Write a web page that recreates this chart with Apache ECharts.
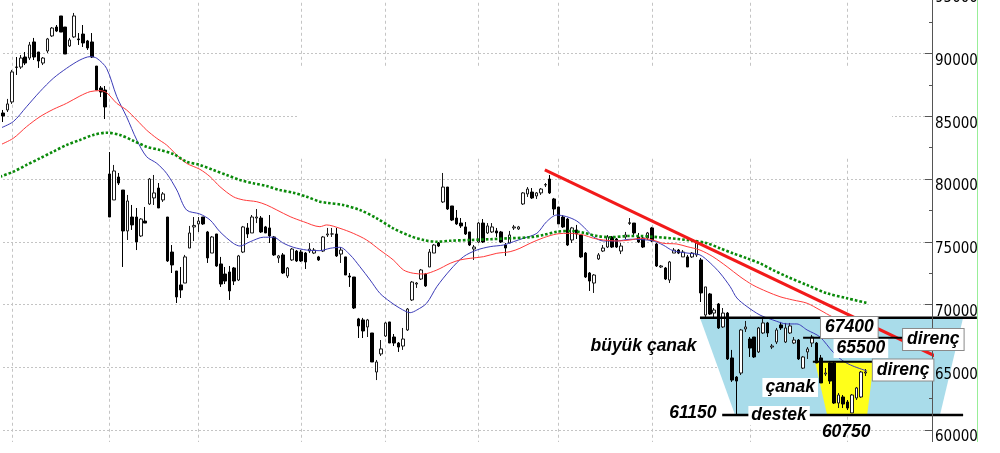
<!DOCTYPE html>
<html><head><meta charset="utf-8">
<script src="https://cdn.jsdelivr.net/npm/echarts@6/dist/echarts.min.js"></script>
<style>html,body{margin:0;padding:0;background:#fff}#c{width:1000px;height:453px}</style>
</head><body><div id="c"></div>
<script>
// ---- daily candles ----
const opens = [85260,85500,86140,88920,88920,89720,89640,90920,90120,89240,90200,91400,92110,92990,92110,90600,91320,91160,91550,91000,90920,89000,87250,87090,80400,78330,80160,79120,75860,76970,76970,75460,76650,78010,78490,79280,78330,76970,74180,72670,71560,71710,74500,76180,76420,76970,75780,74100,75620,73230,72430,72590,72910,71950,74180,76100,75700,76890,76890,76180,76100,75380,73710,73950,72270,73550,74260,74180,74100,74260,74100,73790,74260,75540,75620,75620,74020,73790,72270,72190,68850,68770,68210,67730,64620,66060,67490,68610,67410,66930,66690,67970,70360,71630,72030,72430,72990,74100,74900,78170,79360,77850,76890,76490,76180,75780,74420,74980,76490,75700,75780,75860,75780,74740,74900,76100,76020,78010,78810,78960,78650,78890,79520,80000,78410,77770,76970,76810,75140,75940,75540,74100,72510,71710,73630,74260,74580,75380,75220,74260,75380,76460,76490,75380,75300,75300,76100,74820,72990,72910,71950,74100,74340,73790,73790,73790,73950,73550,69160,70840,69320,70040,68210,69320,65740,64220,64540,68050,67250,67410,66220,67730,68530,66610,67010,68370,67010,67730,66930,67170,64930,66220,66930,66930,65740,64460,65340,65340,62150,62630,62230,61360,62550,62630,64540];
const closes = [85020,85980,88530,88900,89640,89240,90680,89720,89400,89640,91160,92030,91790,91710,89960,91080,92990,91100,90840,90440,89720,87090,86930,85740,76970,80640,79680,75860,78250,76340,74980,76810,76490,80000,78890,77690,78810,73470,73150,70600,71160,73790,75700,76300,76650,76420,73710,75380,73070,71630,71870,71080,71870,73870,76180,75620,76970,76970,75780,75700,75460,73950,73870,72510,72910,74420,73470,73470,73390,74420,74340,73550,75380,75620,75620,73870,74340,72350,72190,69720,68290,67890,68770,65420,65420,66460,68530,66930,66930,66610,67250,69640,71790,71710,72750,71480,74180,74740,74660,79360,77610,76730,76420,76260,75620,74740,74580,76490,74980,76260,76180,75700,74980,74500,75540,76180,76180,78890,79200,78490,78890,79200,79560,78890,77610,76420,76180,74740,76100,75620,73790,72190,71870,72350,73950,74500,75380,74580,74580,74660,75540,76520,75700,74980,74580,75700,75060,73070,73070,72030,73390,74340,74100,74180,72990,74100,74900,70920,71400,69240,69560,68130,69320,65660,63980,63900,67970,68210,66530,65820,68130,68530,67730,66690,67970,68130,68130,68290,67170,65660,65820,66460,67410,65340,63750,64540,63900,62150,62790,62070,61750,62790,63350,64620,64620];
const lows = [84540,85340,85980,88290,88770,89080,89480,89480,88850,89080,90040,91320,91710,91710,89960,90520,91240,90680,90520,90280,89640,87090,86530,84780,76970,78330,79520,72990,75140,75940,74340,75380,76490,77930,77930,77690,78170,73390,72510,70120,70520,71710,74500,75060,75780,76340,73310,74100,73000,71400,71630,70360,71550,71870,74100,75300,75700,76490,75700,75700,74900,73870,73310,72430,72110,73470,73390,73390,72830,74100,74020,73470,74180,75380,75380,73790,73310,72350,71400,69640,67330,67330,67410,65420,63980,65900,67410,66930,66690,66220,66380,67890,70280,71320,71950,71400,72990,74100,74580,78090,77530,76650,76340,76100,75540,74660,73550,74900,74900,75620,75700,75380,74900,73870,74900,75940,75940,77930,78570,78410,78410,78730,79360,78810,77130,76420,76100,74660,74900,75220,73710,72110,71080,70920,73550,74180,74500,74500,74500,74020,75220,76340,75460,74900,74500,75140,74980,72990,72910,71950,71710,74100,74020,73790,72990,73710,73790,70200,69000,69160,69000,68050,68130,65580,63830,61200,64380,67810,65820,65740,66140,67650,67410,66450,66850,67970,66930,67650,66850,65580,64860,65660,66610,65340,63750,64300,63670,62070,61750,61750,61590,61360,62390,62550,64300];
const highs = [85500,86380,88690,89720,89880,90120,90920,91240,90120,89720,91240,92110,92270,92990,92110,91240,93230,91630,92270,91080,91630,89000,87410,87410,82150,81120,80480,79120,78730,77930,77690,76890,77770,80080,80320,79680,78960,76970,74740,72670,72990,73950,76260,76970,76970,76970,75860,75460,75620,73790,72990,73070,72990,73950,76260,76490,77130,77610,77050,76260,77130,75460,73950,74100,72990,74500,74340,74340,74180,74900,74500,73870,75460,76100,76100,76100,74580,73790,72510,72190,68930,68930,68850,67730,65580,67170,68610,68610,67650,67010,68130,69720,71870,71790,72830,72510,74420,74820,74980,80480,79360,77850,77530,76890,76570,75780,74740,76570,76810,76490,76490,76100,75860,74900,75860,76340,76260,78960,79360,79280,78960,79280,79680,80320,78490,77770,77130,76890,76180,76340,75540,74180,72590,72430,74100,74740,75540,75460,75300,74900,75780,76890,76490,75700,75460,75780,76180,74900,73150,72990,73470,74500,74420,74340,73950,74180,74980,73710,71400,70920,69720,70120,69720,69400,66380,64300,68050,68690,67410,67410,68210,68930,68610,66850,68130,68610,68530,68530,67410,67250,65900,66610,67570,67010,65980,64940,65500,65500,62950,62790,62390,62870,63430,64700,64860];

// ---- moving averages: [day index, value] ----
const maShort = [[-0.7,84040],[2.3,84570],[5.3,85760],[8.3,86960],[11.3,88020],[14.3,88820],[17.3,89480],[19.6,89750],[21.1,89620],[23.3,88820],[25.6,86560],[27.8,84960],[30.1,83110],[32.3,81780],[34.6,81250],[36.8,80450],[39.1,79120],[41.3,77530],[44.3,77210],[46.6,76730],[48.8,75800],[51.8,74880],[53.3,74660],[55.6,75000],[58.6,75360],[60.8,75360],[63.1,74880],[65.3,74560],[68.3,74340],[71.3,74290],[73.6,74480],[75.8,74560],[78.1,73950],[80.3,73010],[82.6,71950],[84.8,70890],[87.1,70220],[89.3,69700],[91.6,69350],[93.1,69560],[95.3,70100],[97.6,71420],[100.6,72750],[103.6,73810],[106.6,74340],[109.6,74610],[112.6,74740],[114.8,75000],[117.1,75280],[120.1,75670],[122.3,76600],[124.6,77130],[126.8,77000],[129.1,76650],[131.3,75940],[132.8,75400],[135.1,75060],[138.1,75060],[141.1,75200],[146.2,75080],[148.5,74740],[150.7,74290],[153.9,74100],[156.8,73950],[159.1,73310],[161.3,72510],[163.6,71420],[165.1,70520],[167.4,69830],[170.3,69160],[173.2,68770],[176.4,68450],[178.6,68450],[180.9,67970],[183.8,67410],[186.7,66220],[189.0,65500],[191.2,65100],[194.4,64700]];
const maMid = [[-0.7,82710],[2.3,83240],[5.3,84170],[8.3,84960],[11.3,85550],[14.3,86030],[17.3,86610],[19.6,86960],[21.8,87040],[23.3,86880],[25.6,86030],[27.8,85500],[30.1,84700],[32.3,83900],[34.6,83240],[36.8,82710],[39.1,81910],[41.3,81250],[44.3,80770],[46.6,80180],[48.8,79390],[51.8,78590],[54.1,78330],[57.1,78190],[59.3,77930],[61.6,77530],[64.6,77000],[67.6,76600],[71.3,76200],[72.8,76340],[75.8,76070],[78.8,75670],[81.8,75140],[84.8,74340],[87.8,73550],[90.1,72750],[92.3,72490],[94.6,72430],[97.6,72750],[100.6,73280],[102.8,73550],[105.1,73680],[108.1,73810],[111.1,74080],[114.1,74210],[116.3,74480],[118.6,74880],[121.6,75320],[124.6,75620],[127.6,75670],[130.6,75540],[132.8,75280],[135.1,75140],[138.1,75060],[141.1,75140],[143.3,75280],[146.2,75140],[148.5,74880],[151.6,74820],[153.9,74610],[156.8,74340],[159.7,73810],[162.9,73010],[165.8,72220],[168.7,71550],[171.9,71020],[174.8,70620],[177.7,70360],[180.9,70100],[183.8,69560],[186.7,69000],[189.9,68610],[194.4,68210]];
const maLong = [[-0.7,80180],[2.3,80580],[5.3,81120],[8.3,81650],[11.3,82180],[14.3,82710],[17.3,83110],[20.3,83510],[23.3,83690],[26.3,83510],[29.3,83050],[32.3,82570],[35.3,82310],[38.3,81990],[41.3,81380],[44.3,81120],[47.3,80720],[50.3,80320],[53.3,79920],[56.3,79660],[59.3,79440],[62.3,79120],[65.3,78910],[68.3,78590],[71.3,78190],[72.8,78110],[76.5,77930],[80.3,77530],[84.1,76870],[87.8,76070],[91.6,75460],[94.6,75140],[97.6,75000],[100.6,75080],[105.1,75140],[109.6,75200],[114.1,75280],[118.6,75360],[121.6,75540],[124.6,75800],[127.6,75860],[130.6,75720],[133.6,75460],[136.6,75360],[141.1,75460],[143.3,75460],[146.2,75400],[153.9,75140],[158.4,74880],[161.3,74480],[164.2,74080],[167.4,73680],[170.3,73280],[173.2,72750],[176.4,72220],[180.9,71550],[185.4,70890],[189.9,70500],[194.6,70100]];

// ---- drawn annotations (day index, price) ----
const trendLine = [[121.9,80720],[220.2,64120]];
const bigCup = [[156.8,68940],[216.0,68940],[210.8,61200],[164.7,61200]];
const smallCup = [[182.7,65440],[195.9,65440],[194.4,61200],[185.4,61200]];
const levelFrom = [156.8,161.8,180.0,182.2];
const levelTo = [219.1,216.0,203.4,196.6];
const levelValue = [68940,61200,67350,65440];
const labelTexts = ['büyük çanak','67400','65500','direnç','direnç','çanak','destek','61150','60750'];
const labelIdx = [144.1,190.4,193.0,209.3,202.5,177.1,174.6,155.2,189.7];
const labelVal = [66690,68170,66490,67210,64780,63390,61160,61320,59800];
const labelKind = ['plain','box','fill','box','box','fill','fill','plain','plain'];

// ---- axis ----
const yMin = 55000, yMax = 95000, yStep = 5000;
const holidays = ['2013-05-01','2013-08-08','2013-08-09','2013-08-30','2013-10-15','2013-10-16','2013-10-17','2013-10-18','2013-10-29','2014-01-01'];
const slotCount = 210;

function tradingDays(start, n) {
  const out = []; const d = new Date(start + 'T00:00:00Z');
  while (out.length < n) {
    const dow = d.getUTCDay(); const s = d.toISOString().slice(0, 10);
    if (dow !== 0 && dow !== 6 && holidays.indexOf(s) < 0) out.push(s);
    d.setUTCDate(d.getUTCDate() + 1);
  }
  return out;
}
const days = tradingDays('2013-04-29', slotCount);
const monthStart = new Set();
days.forEach((s, i) => { if (i > 0 && s.slice(0, 7) !== days[i - 1].slice(0, 7)) monthStart.add(i); });

const candles = opens.map((o, k) => [o, closes[k], lows[k], highs[k]]);
const textFont = { fontStyle: 'italic', fontWeight: 'bold', fontSize: 17.5, fontFamily: '"Liberation Sans", Arial, sans-serif' };

const chart = echarts.init(document.getElementById('c'), null, { renderer: 'canvas' });
chart.setOption({
  animation: false,
  backgroundColor: '#ffffff',
  grid: { left: 3, right: 68, top: -9.25, bottom: -39.75, containLabel: false, outerBoundsMode: 'none' },
  xAxis: [
    { type: 'category', data: days, boundaryGap: false,
      axisLine: { show: false }, axisTick: { show: false }, axisLabel: { show: false },
      splitLine: { show: true, interval: (i) => monthStart.has(i), lineStyle: { color: '#c4c4c4', type: [3, 3], width: 1 } } },
    { type: 'value', min: 0, max: slotCount - 1, show: false }
  ],
  yAxis: [
    { type: 'value', position: 'right', min: yMin, max: yMax, interval: yStep,
      axisLine: { show: false }, axisTick: { show: false }, axisLabel: { show: false },
      splitLine: { show: true, lineStyle: { color: '#c4c4c4', type: [2, 2], width: 1 } } },
    { type: 'value', position: 'right', min: yMin, max: yMax, interval: yStep, z: 10,
      axisLine: { show: true, lineStyle: { color: '#555', width: 1 } },
      axisTick: { show: true, inside: true, length: 7, lineStyle: { color: '#555' } },
      minorTick: { show: true, splitNumber: 2, length: 3, lineStyle: { color: '#555' } },
      axisLabel: { margin: 3, color: '#000', fontSize: 15, verticalAlign: 'top', formatter: (v) => String(v),
        fontFamily: '"DejaVu Sans Condensed", "DejaVu Sans", sans-serif' },
      splitLine: { show: false } }
  ],
  graphic: { elements: [
    { type: 'rect', shape: { x: 298, y: 68, width: 594, height: 89 }, style: { fill: '#fff' }, z: 1, silent: true },
    { type: 'rect', shape: { x: 0, y: 442, width: 1000, height: 12 }, style: { fill: '#fff' }, z: 30, silent: true },
    { type: 'line', shape: { x1: 977.5, y1: 0, x2: 977.5, y2: 442 }, style: { stroke: '#98ee98', lineWidth: 1 }, z: 30, silent: true }
  ] },
  series: [
    { type: 'custom', name: 'areas', xAxisIndex: 1, yAxisIndex: 0, z: 1, clip: false, silent: true,
      data: [bigCup[0], smallCup[0]],
      renderItem: (params, api) => {
        const poly = params.dataIndex === 0 ? bigCup : smallCup;
        return { type: 'polygon', shape: { points: poly.map(p => api.coord(p)) },
          style: { fill: params.dataIndex === 0 ? '#a9dcea' : '#ffff1a', stroke: null } };
      } },
    { type: 'candlestick', name: 'price', xAxisIndex: 0, yAxisIndex: 0, data: candles, barWidth: 3, z: 2, clip: false,
      itemStyle: { color: '#ffffff', color0: '#000000', borderColor: '#1a1a1a', borderColor0: '#000000', borderWidth: 1 } },
    { type: 'line', name: 'maShort', xAxisIndex: 1, yAxisIndex: 0, data: maShort, smooth: 0.3, showSymbol: false, z: 3, clip: false,
      lineStyle: { color: '#3c3cb8', width: 1 } },
    { type: 'line', name: 'maMid', xAxisIndex: 1, yAxisIndex: 0, data: maMid, smooth: 0.3, showSymbol: false, z: 3, clip: false,
      lineStyle: { color: '#ff3a3a', width: 1 } },
    { type: 'line', name: 'maLong', xAxisIndex: 1, yAxisIndex: 0, data: maLong, smooth: 0.3, showSymbol: false, z: 3, clip: false,
      lineStyle: { color: '#0a8a0a', width: 2.6, type: [2.6, 2], cap: 'butt' } },
    { type: 'line', name: 'trend', xAxisIndex: 1, yAxisIndex: 0, data: trendLine, showSymbol: false, z: 4, clip: false,
      lineStyle: { color: '#f21a1a', width: 3 } },
    { type: 'custom', name: 'levels', xAxisIndex: 1, yAxisIndex: 0, z: 5, clip: false, silent: true,
      data: levelValue.map((v, i) => [levelFrom[i], v]),
      renderItem: (params, api) => {
        const i = params.dataIndex;
        const a = api.coord([levelFrom[i], levelValue[i]]);
        const b = api.coord([levelTo[i], levelValue[i]]);
        return { type: 'line', shape: { x1: a[0], y1: a[1], x2: b[0], y2: b[1] },
          style: { stroke: '#000', lineWidth: (i < 2) ? 2.6 : 2.2 } };
      } },
    { type: 'custom', name: 'labels', xAxisIndex: 1, yAxisIndex: 0, z: 20, clip: false, silent: true,
      data: labelTexts.map((t, i) => [labelIdx[i], labelVal[i]]),
      renderItem: (params, api) => {
        const i = params.dataIndex;
        const p = api.coord([labelIdx[i], labelVal[i]]);
        const kind = labelKind[i];
        const style = Object.assign({ text: labelTexts[i], x: p[0], y: p[1], align: 'center', verticalAlign: 'middle', fill: '#000' }, textFont);
        if (kind === 'box') { style.backgroundColor = '#fff'; style.borderColor = '#8a8a8a'; style.borderWidth = 1; style.padding = [2, 4, 1, 4]; }
        if (kind === 'fill') { style.backgroundColor = '#fff'; style.padding = [1, 3, 0, 3]; }
        return { type: 'text', style: style };
      } }
  ]
});
</script></body></html>
